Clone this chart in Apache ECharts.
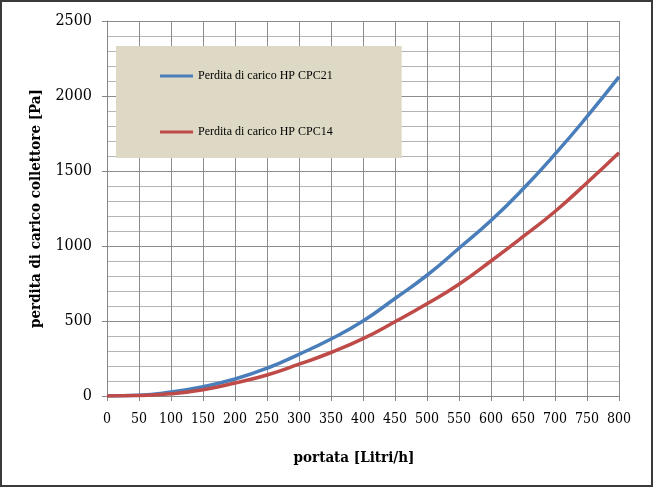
<!DOCTYPE html>
<html>
<head>
<meta charset="utf-8">
<script src="https://cdn.jsdelivr.net/npm/echarts@6/dist/echarts.min.js"></script>
<style>
html,body{margin:0;padding:0;background:#fff;}
#wrap{position:relative;width:653px;height:487px;}
#chart{width:653px;height:487px;}
#frame{position:absolute;left:0;top:0;width:653px;height:487px;box-sizing:border-box;border:2px solid #3a3a3a;pointer-events:none;}
</style>
</head>
<body>
<div id="wrap"><div id="chart"></div><div id="frame"></div></div>
<script>
const portata = [0, 50, 100, 150, 200, 250, 300, 350, 400, 450, 500, 550, 600, 650, 700, 750, 800];
const cpc21 = [0, 5, 27, 62, 113, 185, 278, 380, 500, 650, 805, 985, 1170, 1380, 1612, 1862, 2127];
const cpc14 = [0, 3, 15, 42, 87, 140, 212, 290, 382, 495, 615, 745, 900, 1062, 1230, 1422, 1622];
const seriesNames = ['Perdita di carico HP CPC21', 'Perdita di carico HP CPC14'];
const xName = 'portata [Litri/h]';
const yName = 'perdita di carico collettore [Pa]';

const pairs = arr => portata.map((x, i) => [x, arr[i]]);
const serifC = '"DejaVu Serif Condensed", "DejaVu Serif", serif';

const chart = echarts.init(document.getElementById('chart'), null, {renderer: 'canvas'});
chart.setOption({
  animation: false,
  backgroundColor: '#ffffff',
  grid: {left: 107, right: 34, top: 21, bottom: 91, containLabel: false},
  legend: {
    left: 116, top: 46, orient: 'vertical',
    backgroundColor: '#DDD9C4',
    padding: [24, 69, 20, 44],
    itemGap: 44,
    itemWidth: 33, itemHeight: 3, icon: 'rect',
    textStyle: {fontFamily: '"Liberation Serif", serif', fontSize: 12, color: '#000'},
    data: seriesNames
  },
  xAxis: {
    type: 'value', min: 0, max: 800, interval: 50,
    name: xName, nameLocation: 'middle', nameGap: 55,
    nameTextStyle: {fontFamily: serifC, fontWeight: 'bold', fontSize: 15, color: '#000', padding: [0, 18, 0, 0]},
    axisLine: {show: true, onZero: false, lineStyle: {color: '#868686', width: 1}},
    axisTick: {show: true, length: 5, lineStyle: {color: '#868686'}},
    axisLabel: {fontFamily: serifC, fontSize: 14, color: '#000', margin: 16},
    splitLine: {show: true, lineStyle: {color: '#8c8c8c', width: 1}}
  },
  yAxis: {
    type: 'value', min: 0, max: 2500, interval: 500,
    name: yName, nameLocation: 'middle', nameGap: 63,
    nameTextStyle: {fontFamily: serifC, fontWeight: 'bold', fontSize: 15, color: '#000'},
    axisLine: {show: true, lineStyle: {color: '#868686', width: 1}},
    axisTick: {show: true, length: 5, lineStyle: {color: '#868686'}},
    axisLabel: {fontFamily: serifC, fontSize: 16, color: '#000', margin: 15, formatter: v => String(v)},
    splitLine: {show: true, lineStyle: {color: '#8c8c8c', width: 1}},
    minorTick: {show: false, splitNumber: 5},
    minorSplitLine: {show: true, lineStyle: {color: '#b4b4b4', width: 1}}
  },
  series: [
    {name: seriesNames[0], type: 'line', smooth: true, showSymbol: false,
     data: pairs(cpc21), itemStyle: {color: '#4A7EBB'}, lineStyle: {color: '#4A7EBB', width: 3.5}},
    {name: seriesNames[1], type: 'line', smooth: true, showSymbol: false,
     data: pairs(cpc14), itemStyle: {color: '#BE4B48'}, lineStyle: {color: '#BE4B48', width: 3.5}}
  ]
});
</script>
</body>
</html>
